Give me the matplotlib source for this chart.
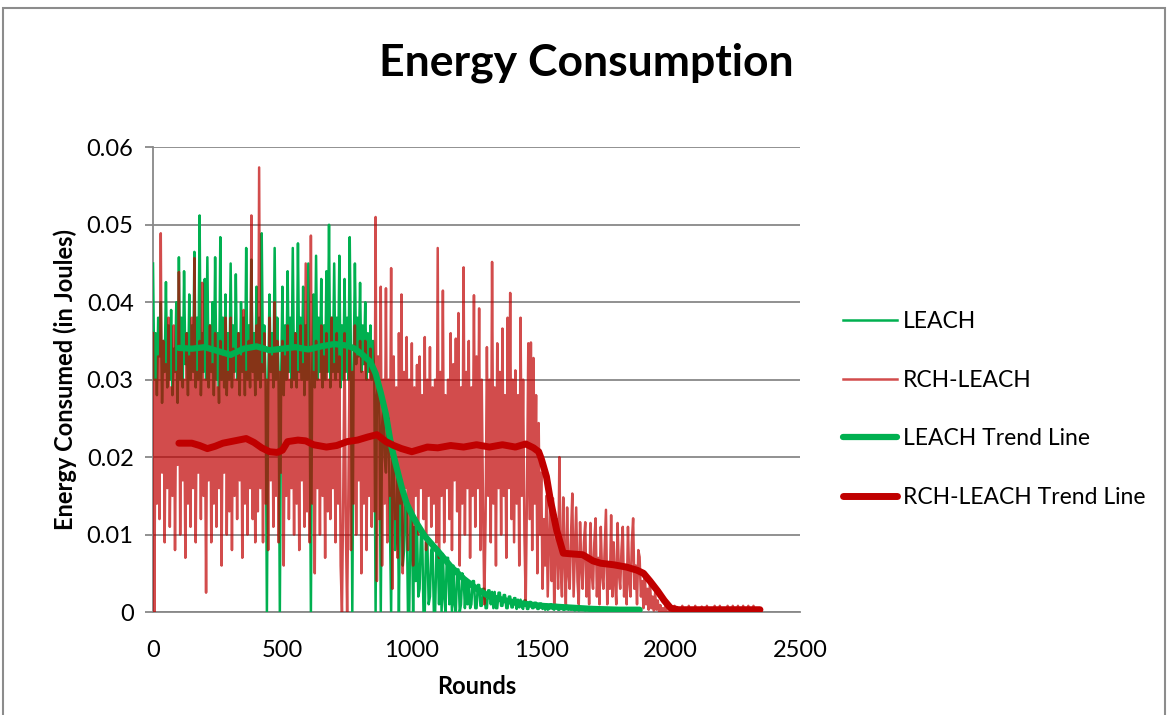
import numpy as np
import matplotlib
matplotlib.use('Agg')
import matplotlib.pyplot as plt
from matplotlib.patches import Rectangle

plt.rcParams['font.family'] = 'Lato'

# values, in milli-joules, one every 5 rounds (one row = 100 rounds)
leach_step = 5
leach_mj = [
    45, 30, 36, 28, 38, 33, 40, 27, 35, 31, 42.6, 29, 37, 30, 39, 28, 34, 31, 40, 27,
    45.8, 30, 38, 29, 44, 32, 36, 28, 41, 30, 37, 31, 46.5, 29, 38, 30, 51.2, 28, 36, 31,
    43, 30, 45.8, 29, 37, 31, 40, 28, 45.8, 30, 36, 27, 48.4, 30, 38, 29, 41, 28, 36, 30,
    45, 29, 37, 31, 43.6, 30, 36, 28, 40, 31, 38, 28, 47, 30, 37, 29, 45.5, 31, 36, 28,
    42, 30, 38, 29, 48.9, 31, 37, 30, 0, 29, 41, 31, 36, 29, 47, 30, 38, 31, 0, 30,
    42, 28, 37, 30, 44, 31, 38, 29, 47, 30, 36, 29, 47.6, 31, 38, 30, 42, 28, 37, 30,
    45, 30, 0, 31, 41, 29, 46, 30, 38, 31, 43, 29, 37, 30, 44, 31, 50, 29, 38, 31,
    45, 30, 38, 31, 46, 29, 37, 30, 43, 31, 38, 30, 48.4, 32, 0, 31, 45, 32, 38, 33,
    42.5, 31, 37, 32, 40, 30, 36, 31, 37, 30, 35, 30, 0, 28, 30, 25, 0, 24, 27, 20,
    18, 24, 25, 12, 0, 22, 20, 8, 10, 19, 0, 16, 17, 6, 8, 15, 14, 0, 0, 13,
    12, 0, 11, 4, 11, 2, 3, 10, 10, 0, 0, 9, 9, 1, 2, 8, 8.5, 0, 0, 8,
    8, 1, 7.5, 0, 7.5, 2, 0, 7, 7, 1, 6, 0, 6, 1, 0, 5.5, 5.5, 0, 1, 5,
    4.5, 0.5, 4, 1, 4, 0.5, 1, 4, 4, 0.5, 0.5, 3.5, 3.5, 0.8, 0.8, 3, 3, 0.5, 0.5, 2.8,
    2.8, 1, 2.6, 0.5, 2.6, 0.5, 0.5, 2.5, 2.5, 0.8, 0.8, 2.2, 2.2, 0.5, 0.5, 2, 2, 0.6, 0.6, 1.8,
    1.8, 0.4, 1.6, 0.6, 1.6, 0.6, 0.4, 1.5, 1.5, 0.4, 0.4, 1.3, 1.3, 0.5, 0.5, 1.2, 1.2, 0.4, 0.4, 1.1,
    1.1, 0.4, 1, 0.3, 1, 0.3, 0.4, 1, 1, 0.4, 0.3, 0.9, 0.9, 0.3, 0.3, 0.8, 0.8, 0.3, 0.3, 0.8,
    0.8, 0.3, 0.7, 0.3, 0.7, 0.3, 0.2, 0.7, 0.7, 0.2, 0.3, 0.6, 0.6, 0.3, 0.2, 0.6, 0.6, 0.2, 0.2, 0.5,
    0.5, 0.2, 0.5, 0.2, 0.5, 0.2, 0.2, 0.5, 0.5, 0.2, 0.2, 0.4, 0.4, 0.2, 0.2, 0.4, 0.4, 0.1, 0.1, 0.4,
    0.4, 0.2, 0.3, 0.2, 0.3, 0.1, 0.1, 0.3, 0.3, 0.2, 0.2, 0.3, 0.3, 0.1, 0.1, 0.3, 0.3, 0.2,
]

rch_step = 5
rch_mj = [
    36, 0, 30, 14, 33, 12, 48.9, 18, 35, 9, 32, 16, 38, 11, 29, 15, 37, 8, 31, 19,
    43.9, 10, 34, 17, 30, 7, 36, 14, 33, 11, 38, 16, 45.7, 9, 31, 18, 35, 12, 42.5, 15,
    30, 2.5, 34, 17, 37, 9, 32, 14, 36, 11, 29, 16, 35, 6, 33, 18, 38, 10, 31, 13,
    38, 8, 34, 15, 30, 12, 36, 17, 33, 7, 39, 14, 31, 10, 35, 16, 51.2, 12, 34, 9,
    37, 13, 57.4, 16, 32, 9, 36, 14, 30, 8, 38, 17, 33, 11, 40, 15, 35, 9, 31, 18,
    35, 6, 33, 15, 37, 12, 30, 16, 34, 10, 36, 14, 31, 8, 37, 17, 32, 11, 45, 13,
    34, 9, 48.6, 14, 31, 5, 35, 16, 30, 10, 37, 15, 33, 7, 36, 13, 30, 12, 38, 16,
    32, 9, 36, 14, 33, 6, 0, 15, 36, 11, 0, 16, 34, 8, 31, 14, 37, 10, 33, 17,
    35, 5, 31, 14, 35, 8, 30, 15, 34, 11, 32, 13, 51, 4, 33, 12, 42, 6, 30, 14,
    41.8, 9, 30, 15, 44.4, 3, 33, 12, 29, 7, 36, 14, 41, 5, 31, 16, 35.5, 8, 30, 13,
    34.7, 6, 29, 15, 31.9, 10, 33, 16, 28, 12, 35.5, 8, 30, 15, 34.2, 11, 29, 14, 30, 9,
    47, 7, 31, 15, 41.5, 9, 28, 16, 30, 12, 36, 8, 32, 17, 35.3, 13, 38.6, 6, 29, 14,
    44.5, 10, 31, 16, 35, 7, 29, 15, 40.9, 11, 33, 16, 39.2, 8, 30, 14, 1, 12, 34.2, 15,
    30, 9, 45.2, 14, 29, 6, 34.7, 16, 31, 10, 36.6, 15, 28, 7, 38, 16, 41.2, 12, 30, 9,
    31.2, 14, 28, 6, 38, 15, 30, 10, 1, 16, 34.7, 12, 34.8, 8, 32.8, 14, 28, 5, 24.4, 10,
    18, 3, 12, 6, 15, 2, 9, 15.7, 4, 14.7, 1, 8, 12, 3, 20, 6, 2, 14.8, 7, 1,
    13.5, 5, 3, 10, 15.3, 2, 8, 13.5, 4, 1, 11.6, 6, 3, 9, 11.6, 2, 7, 1, 11.5, 5,
    3, 9, 12.1, 2, 7, 1, 11, 5, 3, 8, 13.2, 1, 6, 3, 12.5, 2, 9, 4, 1, 11.5,
    5, 3, 8, 11, 2, 6, 1, 11, 4, 2, 9, 12.1, 3, 6, 1, 8, 7.1, 2, 4, 0.5,
    5, 1, 3, 0.3, 4, 0.5, 2, 0.2, 2.5, 0.3, 1.5, 0.1, 0.9, 0, 0.5, 0, 0.8, 0, 0, 0,
    0, 0, 0, 0.8, 0, 0, 0, 0, 0, 0.8, 0, 0, 0, 0, 0.8, 0, 0, 0, 0, 0.8,
    0, 0, 0, 0, 0.7, 0, 0, 0, 0.8, 0, 0, 0, 0, 0, 0.8, 0, 0, 0, 0.8, 0,
    0, 0, 0, 0, 0.8, 0, 0, 0, 0.8, 0, 0, 0, 0.8, 0, 0, 0, 0.8, 0, 0, 0,
    0.8, 0, 0, 0, 0.8, 0, 0, 0, 0, 0,
]

leach_trend_rounds = [100, 150, 200, 250, 300, 350, 400, 450, 500, 550, 600, 650, 700, 750,
                      780, 810, 840, 860, 880, 900, 920, 940, 960, 980, 1000, 1020, 1050,
                      1100, 1150, 1200, 1250, 1300, 1400, 1500, 1600, 1700, 1800, 1880]
leach_trend_mj = [34.1, 34.0, 34.2, 33.7, 33.2, 34.0, 34.3, 33.8, 34.0, 34.2, 33.9, 34.3, 34.6, 34.4,
                  34.0, 33.2, 32.3, 30.8, 28.3, 25.5, 21.5, 18.8, 16.2, 14.0, 12.6, 11.4, 9.8,
                  7.9, 5.9, 4.3, 3.0, 2.0, 1.2, 0.8, 0.6, 0.4, 0.3, 0.3]

rch_trend_rounds = [100, 150, 180, 210, 240, 270, 300, 330, 360, 390, 420, 450, 480, 500, 520,
                    560, 590, 620, 670, 710, 750, 790, 830, 865, 900, 930, 960, 1000, 1030,
                    1060, 1100, 1150, 1200, 1250, 1300, 1350, 1400, 1440, 1470, 1490, 1500,
                    1520, 1535, 1560, 1585, 1620, 1660, 1700, 1730, 1780, 1830, 1870, 1895,
                    1920, 1950, 1975, 2000, 2030, 2100, 2200, 2300, 2345]
rch_trend_mj = [21.8, 21.8, 21.5, 21.1, 21.4, 21.8, 22.0, 22.2, 22.4, 21.9, 21.2, 20.7, 20.6, 20.9, 22.0,
                22.2, 22.1, 21.6, 21.3, 21.5, 22.0, 22.2, 22.6, 22.9, 22.0, 21.5, 21.1, 20.7, 21.0,
                21.3, 21.2, 21.5, 21.3, 21.6, 21.3, 21.6, 21.3, 21.7, 21.2, 20.7, 19.8,
                17.5, 14.5, 10.5, 7.6, 7.5, 7.4, 6.6, 6.3, 6.1, 5.8, 5.4, 5.0,
                4.0, 2.7, 1.5, 0.5, 0.3, 0.3, 0.3, 0.3, 0.3]

leach = np.array(leach_mj) / 1000
rch = np.array(rch_mj) / 1000
leach_x = np.arange(len(leach)) * leach_step
rch_x = np.arange(len(rch)) * rch_step

green = '#00B050'
red = '#C00000'
grid_col = '#888888'

fig = plt.figure(figsize=(11.68, 7.15), dpi=100)
ax = fig.add_axes([0.131, 0.144, 0.554, 0.650])

ax.plot(leach_x, leach, color=green, lw=1.8, label='LEACH', zorder=3)
ax.plot(rch_x, rch, color=red, alpha=0.7, lw=1.8, label='RCH-LEACH', zorder=4)
ax.plot(leach_trend_rounds, np.array(leach_trend_mj) / 1000, color=green, lw=4.5,
        label='LEACH Trend Line', zorder=5, solid_capstyle='round')
ax.plot(rch_trend_rounds, np.array(rch_trend_mj) / 1000, color=red, lw=5,
        label='RCH-LEACH Trend Line', zorder=6, solid_capstyle='round')

ax.set_xlim(0, 2500)
ax.set_ylim(0, 0.06)
ax.set_xticks([0, 500, 1000, 1500, 2000, 2500])
ax.set_yticks([0, 0.01, 0.02, 0.03, 0.04, 0.05, 0.06])
ax.set_yticklabels(['0', '0.01', '0.02', '0.03', '0.04', '0.05', '0.06'])
ax.yaxis.grid(True, color=grid_col, lw=1.3)
ax.set_axisbelow(True)
for s in ['top', 'right']:
    ax.spines[s].set_visible(False)
for s in ['left', 'bottom']:
    ax.spines[s].set_color(grid_col)
    ax.spines[s].set_linewidth(1.3)
ax.tick_params(axis='y', length=6, color=grid_col, width=1.3, labelsize=17, pad=8)
ax.tick_params(axis='x', length=0, labelsize=17, pad=20)

ax.set_xlabel('Rounds', fontsize=17, fontweight='bold', labelpad=10)
ax.set_ylabel('Energy Consumed (in Joules)', fontsize=17, fontweight='bold', labelpad=7)
fig.suptitle('Energy Consumption', fontsize=32, fontweight='bold', x=0.502, y=0.941)

ax.legend(loc='center left', bbox_to_anchor=(0.7217, 0.4273), bbox_transform=fig.transFigure,
          frameon=False, fontsize=16.5, handlelength=2.35, handletextpad=0.25,
          labelspacing=1.65, borderpad=0, borderaxespad=0)

fig.patches.append(Rectangle((0.0026, -0.05), 0.9948, 1.039, transform=fig.transFigure,
                             fill=False, edgecolor='#8c8c8c', lw=1.5))

fig.savefig('out.png', dpi=100)
